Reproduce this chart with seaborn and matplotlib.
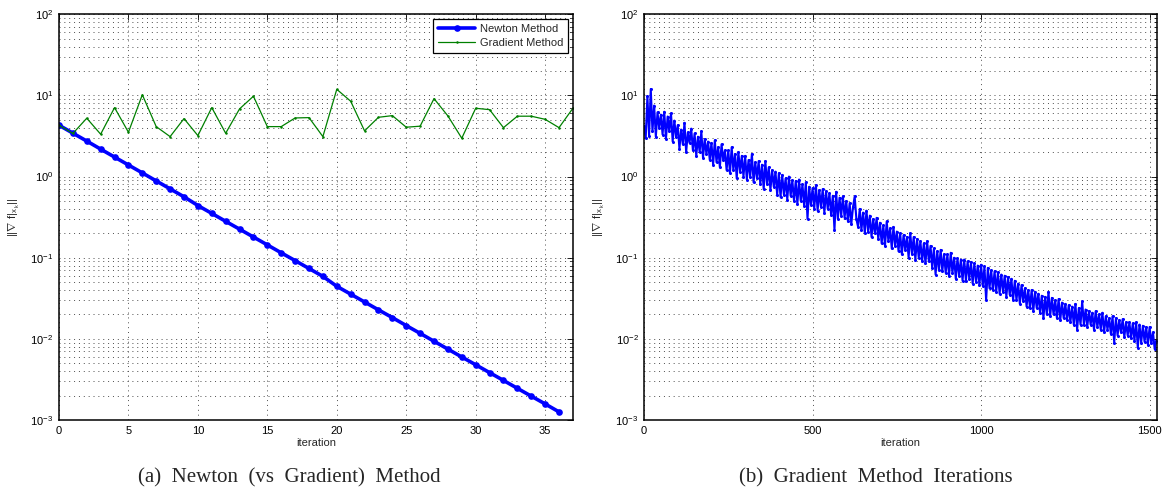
"""
Newton vs gradient method convergence, two panels
"""
import numpy as np
import pandas as pd
import matplotlib

matplotlib.use("Agg")
import matplotlib.pyplot as plt
from matplotlib.ticker import LogLocator, FixedLocator
import seaborn as sns

# --- panel (a): norm of gradient per iteration ---
newton_norm = [
    4.30, 3.43, 2.74, 2.18, 1.74, 1.39, 1.11, 0.885, 0.706, 0.564,
    0.440, 0.352, 0.281, 0.225, 0.180, 0.144, 0.115, 0.0922, 0.0737, 0.0589,
    0.0445, 0.0356, 0.0285, 0.0228, 0.0183, 0.0146, 0.0117, 0.00935, 0.00748, 0.00598,
    0.00480, 0.00384, 0.00308, 0.00246, 0.00197, 0.00158, 0.00126,
]
gradient_norm = [
    4.30, 3.40, 5.24, 3.33, 7.08, 3.52, 10.2, 4.13, 3.11, 5.18,
    3.20, 7.08, 3.42, 6.83, 9.78, 4.13, 4.13, 5.28, 5.33, 3.11,
    11.9, 8.49, 3.66, 5.38, 5.64, 4.06, 4.18, 9.14, 5.59, 2.97,
    6.95, 6.68, 4.01, 5.55, 5.55, 5.08, 4.01, 6.95,
]

# --- panel (b): gradient method, every 5th iteration ---
grad_step = 5
grad_long = [
    4.2, 3.0, 9.8, 3.2, 12.0, 3.6, 7.5, 3.1, 6.2, 4.0,
    5.8, 3.3, 6.3, 2.9, 5.5, 3.6, 6.0, 2.7, 4.9, 3.1,
    4.3, 2.2, 3.8, 2.5, 4.6, 2.0, 3.5, 2.6, 3.9, 2.1,
    3.4, 1.8, 3.1, 2.0, 3.6, 1.7, 2.9, 1.9, 2.7, 1.6,
    2.6, 1.4, 2.8, 1.5, 2.3, 1.3, 2.5, 1.6, 2.1, 1.2,
    2.1, 1.1, 2.3, 1.2, 1.9, 0.95, 2.0, 1.15, 1.8, 1.0,
    1.8, 0.92, 1.6, 1.0, 1.9, 0.85, 1.5, 0.95, 1.55, 0.8,
    1.4, 0.7, 1.55, 0.8, 1.3, 0.68, 1.2, 0.75, 1.15, 0.6,
    1.1, 0.56, 1.05, 0.6, 0.95, 0.52, 1.0, 0.58, 0.9, 0.5,
    0.88, 0.46, 0.92, 0.5, 0.8, 0.44, 0.85, 0.3, 0.75, 0.45,
    0.72, 0.4, 0.78, 0.38, 0.68, 0.42, 0.7, 0.36, 0.66, 0.4,
    0.62, 0.34, 0.58, 0.22, 0.65, 0.3, 0.55, 0.33, 0.57, 0.31,
    0.5, 0.28, 0.47, 0.26, 0.42, 0.57, 0.3, 0.24, 0.4, 0.22,
    0.36, 0.2, 0.38, 0.21, 0.33, 0.18, 0.3, 0.2, 0.31, 0.17,
    0.27, 0.15, 0.25, 0.14, 0.28, 0.16, 0.23, 0.13, 0.24, 0.14,
    0.21, 0.12, 0.2, 0.11, 0.19, 0.125, 0.18, 0.1, 0.2, 0.11,
    0.18, 0.095, 0.17, 0.1, 0.16, 0.09, 0.15, 0.085, 0.16, 0.09,
    0.14, 0.075, 0.13, 0.062, 0.12, 0.07, 0.125, 0.068, 0.11, 0.065,
    0.11, 0.06, 0.115, 0.065, 0.1, 0.055, 0.098, 0.06, 0.095, 0.052,
    0.095, 0.052, 0.09, 0.055, 0.088, 0.048, 0.085, 0.05, 0.08, 0.046,
    0.082, 0.045, 0.078, 0.03, 0.075, 0.042, 0.07, 0.04, 0.068, 0.038,
    0.066, 0.036, 0.062, 0.038, 0.06, 0.033, 0.058, 0.035, 0.055, 0.03,
    0.052, 0.03, 0.048, 0.027, 0.046, 0.029, 0.042, 0.025, 0.04, 0.024,
    0.04, 0.022, 0.038, 0.024, 0.036, 0.021, 0.034, 0.018, 0.033, 0.02,
    0.038, 0.019, 0.032, 0.02, 0.03, 0.018, 0.031, 0.017, 0.028, 0.018,
    0.027, 0.017, 0.026, 0.016, 0.025, 0.015, 0.027, 0.013, 0.024, 0.015,
    0.029, 0.015, 0.023, 0.014, 0.022, 0.015, 0.021, 0.013, 0.022, 0.014,
    0.02, 0.013, 0.021, 0.012, 0.019, 0.013, 0.018, 0.0115, 0.019, 0.009,
    0.018, 0.011, 0.017, 0.012, 0.0175, 0.0105, 0.016, 0.011, 0.016, 0.0102,
    0.0155, 0.0095, 0.016, 0.0078, 0.015, 0.009, 0.0145, 0.0092, 0.014, 0.0085,
    0.014, 0.0088, 0.012, 0.0075, 0.0095,
]

xticks_a = [0, 5, 10, 15, 20, 25, 30, 35]
xticks_b = [0, 500, 1000, 1500]
ylabel = r"$||\nabla\ \mathrm{f}|_{\mathrm{x}_{\ \mathrm{k}}}||$"
captions = ["(a)  Newton  (vs  Gradient)  Method", "(b)  Gradient  Method  Iterations"]

sns.set_theme(style="white")
plt.rcParams["font.family"] = ["Liberation Sans", "DejaVu Sans"]
plt.rcParams["mathtext.fontset"] = "custom"
plt.rcParams["mathtext.rm"] = "Liberation Sans"
plt.rcParams["mathtext.it"] = "Liberation Sans:italic"
plt.rcParams["font.size"] = 8

df_a = pd.DataFrame({
    "iteration": list(range(len(newton_norm))) + list(range(len(gradient_norm))),
    "norm": newton_norm + gradient_norm,
    "method": ["Newton Method"] * len(newton_norm) + ["Gradient Method"] * len(gradient_norm),
})
df_b = pd.DataFrame({
    "iteration": np.arange(len(grad_long)) * grad_step,
    "norm": grad_long,
})

fig = plt.figure(figsize=(11.68, 4.93), dpi=100)
ax1 = fig.add_axes([0.0505, 0.148, 0.440, 0.823])
ax2 = fig.add_axes([0.5514, 0.148, 0.4392, 0.823])

sns.lineplot(data=df_a[df_a.method == "Newton Method"], x="iteration", y="norm",
             color="#0000ff", lw=2.6, marker="o", markersize=4.8, markeredgewidth=0,
             label="Newton Method", ax=ax1)
sns.lineplot(data=df_a[df_a.method == "Gradient Method"], x="iteration", y="norm",
             color="#008000", lw=0.9, marker="o", markersize=1.8, markeredgewidth=0,
             label="Gradient Method", ax=ax1)
sns.lineplot(data=df_b, x="iteration", y="norm", color="#0000ff", lw=1.5,
             marker="o", markersize=2.2, markeredgewidth=0, ax=ax2)

dots = (0, (1, 4))
for ax, xt, xmax in [(ax1, xticks_a, 37), (ax2, xticks_b, 1522)]:
    ax.set_yscale("log")
    ax.set_ylim(1e-3, 1e2)
    ax.set_xlim(0, xmax)
    ax.xaxis.set_major_locator(FixedLocator(xt))
    ax.yaxis.set_major_locator(LogLocator(base=10, numticks=10))
    ax.yaxis.set_minor_locator(LogLocator(base=10, subs=np.arange(2, 10), numticks=20))
    ax.tick_params(which="both", direction="in", top=True, right=True,
                   labelsize=8, colors="black", pad=4)
    ax.tick_params(which="major", length=4, width=0.6)
    ax.tick_params(which="minor", length=2, width=0.5)
    ax.grid(True, which="major", axis="both", linestyle=dots, color="0.3", lw=0.7)
    ax.grid(True, which="minor", axis="y", linestyle=dots, color="0.3", lw=0.7)
    ax.set_axisbelow(True)
    for sp in ax.spines.values():
        sp.set_color("black")
        sp.set_linewidth(1.1)
    ax.set_xlabel("iteration", fontsize=8, labelpad=2)
    ax.set_ylabel(ylabel, fontsize=8, labelpad=6)

leg = ax1.legend(loc="upper right", fontsize=8, frameon=True, fancybox=False,
                 edgecolor="black", framealpha=1, handlelength=3.3,
                 borderpad=0.45, labelspacing=0.3, handletextpad=0.4,
                 borderaxespad=0.45)
leg.get_frame().set_linewidth(0.9)

fig.text(0.248, 0.030, captions[0], ha="center", va="center",
         fontsize=15, family="Liberation Serif")
fig.text(0.75, 0.030, captions[1], ha="center", va="center",
         fontsize=15, family="Liberation Serif")

fig.savefig("out.png", dpi=100)
